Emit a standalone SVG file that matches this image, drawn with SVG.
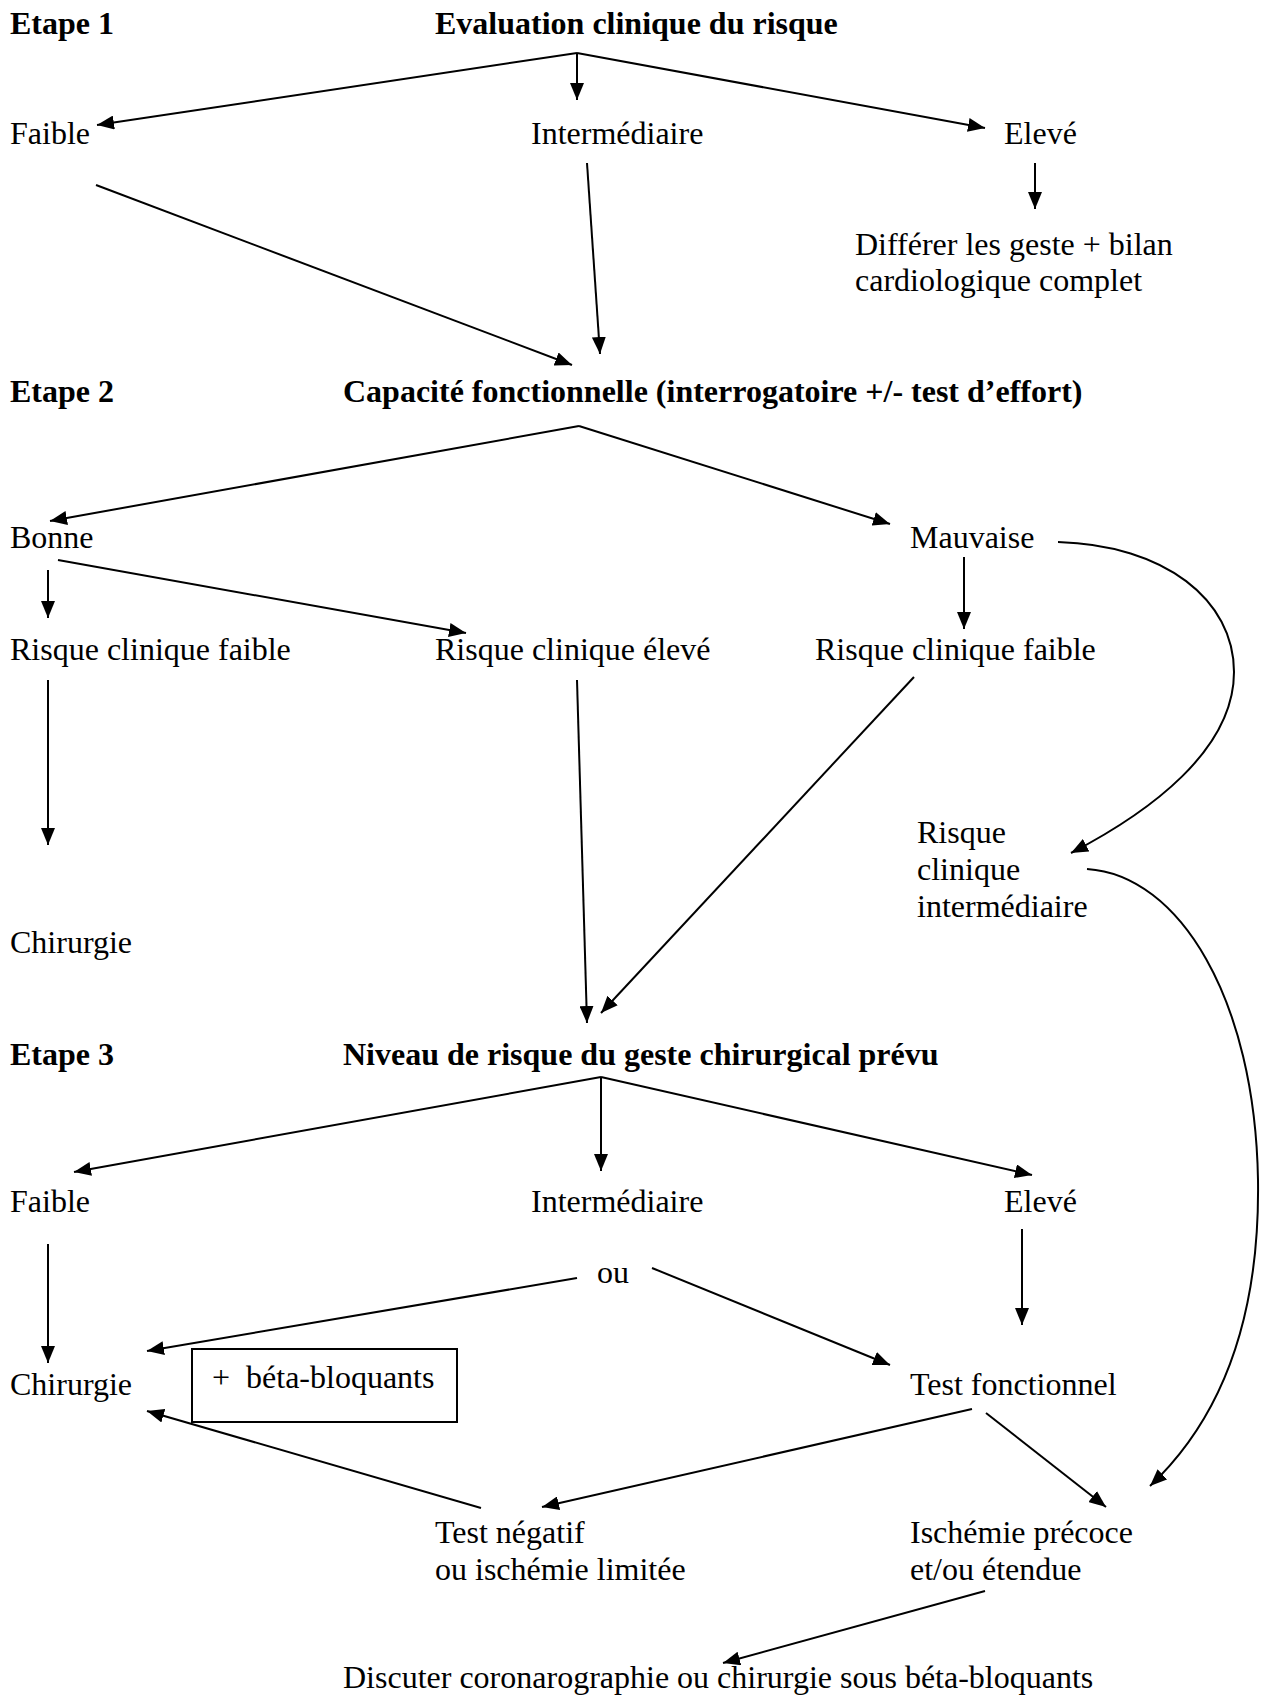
<svg xmlns="http://www.w3.org/2000/svg" width="1261" height="1697" viewBox="0 0 1261 1697">
<style>
text{font-family:"Liberation Serif","Times New Roman",serif;font-size:32px;fill:#000}
.b{font-weight:bold}
.c line,.c path{stroke:#000;fill:none;stroke-width:2}
.t{stroke-width:1.5}
</style>
<defs>
<marker id="a" markerUnits="userSpaceOnUse" markerWidth="18" markerHeight="14" refX="17" refY="7" orient="auto">
<path d="M0,0 L17,7 L0,14 z" fill="#000"/>
</marker>
</defs>
<rect width="1261" height="1697" fill="#fff"/>
<g id="etape1"><text class="b" x="10" y="34">Etape 1</text></g>
<g id="eval"><text class="b" x="435" y="34">Evaluation clinique du risque</text></g>
<g id="faible1"><text x="10" y="144">Faible</text></g>
<g id="inter1"><text x="531" y="144">Intermédiaire</text></g>
<g id="eleve1"><text x="1004" y="144">Elevé</text></g>
<g id="differer"><text x="855" y="255">Différer les geste + bilan</text><text x="855" y="291">cardiologique complet</text></g>
<g id="etape2"><text class="b" x="10" y="402">Etape 2</text></g>
<g id="capacite"><text class="b" x="343" y="402">Capacité fonctionnelle (interrogatoire +/- test d’effort)</text></g>
<g id="bonne"><text x="10" y="548">Bonne</text></g>
<g id="mauvaise"><text x="910" y="548">Mauvaise</text></g>
<g id="rcf1"><text x="10" y="660">Risque clinique faible</text></g>
<g id="rce"><text x="435" y="660">Risque clinique élevé</text></g>
<g id="rcf2"><text x="815" y="660">Risque clinique faible</text></g>
<g id="rci"><text x="917" y="843">Risque</text><text x="917" y="880">clinique</text><text x="917" y="917">intermédiaire</text></g>
<g id="chir1"><text x="10" y="953">Chirurgie</text></g>
<g id="etape3"><text class="b" x="10" y="1065">Etape 3</text></g>
<g id="niveau"><text class="b" x="343" y="1065">Niveau de risque du geste chirurgical prévu</text></g>
<g id="faible3"><text x="10" y="1212">Faible</text></g>
<g id="inter3"><text x="531" y="1212">Intermédiaire</text></g>
<g id="eleve3"><text x="1004" y="1212">Elevé</text></g>
<g id="ou"><text x="597" y="1283">ou</text></g>
<g id="chir2"><text x="10" y="1395">Chirurgie</text></g>
<g id="beta"><rect x="192" y="1349" width="265" height="73" fill="none" stroke="#000" stroke-width="2"/><text x="212" y="1388" xml:space="preserve">+  béta-bloquants</text></g>
<g id="testf"><text x="910" y="1395">Test fonctionnel</text></g>
<g id="testneg"><text x="435" y="1543">Test négatif</text><text x="435" y="1580">ou ischémie limitée</text></g>
<g id="ischemie"><text x="910" y="1543">Ischémie précoce</text><text x="910" y="1580">et/ou étendue</text></g>
<g id="discuter"><text x="343" y="1688">Discuter coronarographie ou chirurgie sous béta-bloquants</text></g>
<g class="c" id="connectors">
<line x1="577" y1="53" x2="97" y2="125" marker-end="url(#a)"/>
<line class="t" x1="577" y1="53" x2="577" y2="100" marker-end="url(#a)"/>
<line x1="577" y1="53" x2="985" y2="128" marker-end="url(#a)"/>
<line class="t" x1="1035" y1="163" x2="1035" y2="209" marker-end="url(#a)"/>
<line class="t" x1="96" y1="185" x2="572" y2="365" marker-end="url(#a)"/>
<line class="t" x1="587" y1="163" x2="600" y2="354" marker-end="url(#a)"/>
<line x1="579" y1="426" x2="50" y2="521" marker-end="url(#a)"/>
<line x1="579" y1="426" x2="890" y2="524" marker-end="url(#a)"/>
<line class="t" x1="48" y1="570" x2="48" y2="618" marker-end="url(#a)"/>
<line x1="58" y1="560" x2="466" y2="633" marker-end="url(#a)"/>
<line class="t" x1="964" y1="557" x2="964" y2="629" marker-end="url(#a)"/>
<line class="t" x1="48" y1="680" x2="48" y2="845" marker-end="url(#a)"/>
<line class="t" x1="577" y1="680" x2="587" y2="1023" marker-end="url(#a)"/>
<line class="t" x1="914" y1="677" x2="601" y2="1013" marker-end="url(#a)"/>
<path class="t" d="M1058,542 C1165,545 1234,600 1234,672 C1234,750 1150,812 1071,853" marker-end="url(#a)"/>
<path class="t" d="M1087,869 C1180,875 1255,1000 1258,1180 C1260,1320 1220,1420 1150,1486" marker-end="url(#a)"/>
<line x1="601" y1="1077" x2="74" y2="1172" marker-end="url(#a)"/>
<line class="t" x1="601" y1="1077" x2="601" y2="1171" marker-end="url(#a)"/>
<line x1="601" y1="1077" x2="1032" y2="1175" marker-end="url(#a)"/>
<line class="t" x1="48" y1="1244" x2="48" y2="1363" marker-end="url(#a)"/>
<line x1="577" y1="1278" x2="147" y2="1351" marker-end="url(#a)"/>
<line class="t" x1="652" y1="1268" x2="890" y2="1365" marker-end="url(#a)"/>
<line class="t" x1="1022" y1="1229" x2="1022" y2="1325" marker-end="url(#a)"/>
<line x1="481" y1="1508" x2="147" y2="1411" marker-end="url(#a)"/>
<line x1="972" y1="1409" x2="542" y2="1507" marker-end="url(#a)"/>
<line class="t" x1="986" y1="1413" x2="1106" y2="1507" marker-end="url(#a)"/>
<line x1="985" y1="1591" x2="723" y2="1663" marker-end="url(#a)"/>
</g>
</svg>
